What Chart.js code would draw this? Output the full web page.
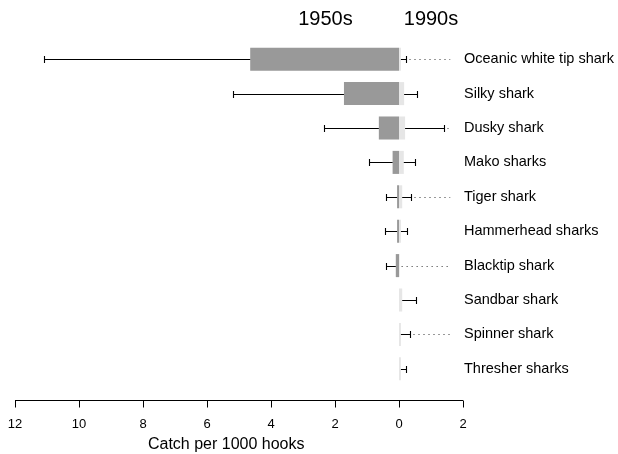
<!DOCTYPE html>
<html>
<head>
<meta charset="utf-8">
<script src="https://cdn.jsdelivr.net/npm/chart.js@4"></script>
<style>
  html, body { margin: 0; padding: 0; background: #fff; }
  #wrap { width: 618px; height: 454px; }
</style>
</head>
<body>
<div id="wrap"><canvas id="sharks"></canvas></div>
<script>
'use strict';

// ===== data =====
var sharks = ['Oceanic white tip shark', 'Silky shark', 'Dusky shark', 'Mako sharks', 'Tiger shark',
  'Hammerhead sharks', 'Blacktip shark', 'Sandbar shark', 'Spinner shark', 'Thresher sharks'];
var catch1950s = [4.65, 1.72, 0.63, 0.2, 0.06, 0.06, 0.1, 0, 0, 0];
var whisker1950s = [11.1, 5.2, 2.35, 0.95, 0.4, 0.43, 0.4, null, null, null];
var catch1990s = [0.06, 0.16, 0.19, 0.15, 0.1, 0.06, 0.02, 0.1, 0.06, 0.06];
var whisker1990s = [0.22, 0.56, 1.4, 0.5, 0.37, 0.25, null, 0.53, 0.34, 0.22];
var hasLeader = [true, false, true, false, true, false, true, false, true, false];
var xTicks = [-12, -10, -8, -6, -4, -2, 0, 2];
var periods = ['1950s', '1990s'];
var xTitle = 'Catch per 1000 hooks';

var FONT = "'Liberation Sans', Arial, sans-serif";

// whiskers, dotted leaders, the x axis line, axis title and the two period headings
var extras = {
  id: 'extras',
  afterDatasetsDraw: function(chart) {
    var ctx = chart.ctx;
    var xs = chart.scales.x, ys = chart.scales.y;
    var area = chart.chartArea;
    var leaderEnd = xs.getPixelForValue(1.6);

    ctx.save();
    ctx.strokeStyle = '#000';
    ctx.lineWidth = 1.1;
    for (var i = 0; i < sharks.length; i++) {
      var y = Math.round(ys.getPixelForValue(i)) + 0.5;
      var a, b;
      if (whisker1950s[i] != null) {
        a = xs.getPixelForValue(-catch1950s[i]);
        b = Math.round(xs.getPixelForValue(-whisker1950s[i])) + 0.5;
        ctx.beginPath();
        ctx.moveTo(a, y); ctx.lineTo(b, y);
        ctx.moveTo(b, y - 3.5); ctx.lineTo(b, y + 3.5);
        ctx.stroke();
      }
      var rightEnd = xs.getPixelForValue(catch1990s[i]) + 2;
      if (whisker1990s[i] != null) {
        a = xs.getPixelForValue(catch1990s[i]);
        b = Math.round(xs.getPixelForValue(whisker1990s[i])) + 0.5;
        ctx.beginPath();
        ctx.moveTo(a, y); ctx.lineTo(b, y);
        ctx.moveTo(b, y - 3.5); ctx.lineTo(b, y + 3.5);
        ctx.stroke();
        rightEnd = b + 3;
      }
      if (hasLeader[i]) {
        ctx.save();
        ctx.strokeStyle = '#333';
        ctx.lineWidth = 1;
        ctx.setLineDash([1, 4]);
        ctx.beginPath();
        ctx.moveTo(rightEnd, y); ctx.lineTo(leaderEnd, y);
        ctx.stroke();
        ctx.restore();
      }
    }

    // x axis line with tick marks
    ctx.lineWidth = 1;
    var axisY = Math.round(area.bottom + 14) + 0.5;
    ctx.beginPath();
    ctx.moveTo(xs.getPixelForValue(xTicks[0]), axisY);
    ctx.lineTo(xs.getPixelForValue(xTicks[xTicks.length - 1]), axisY);
    xTicks.forEach(function(t) {
      var px = Math.round(xs.getPixelForValue(t)) + 0.5;
      ctx.moveTo(px, axisY); ctx.lineTo(px, axisY + 7);
    });
    ctx.stroke();

    ctx.fillStyle = '#000';
    ctx.textAlign = 'center';
    ctx.textBaseline = 'middle';

    // axis title, sits a little left of the axis centre
    ctx.font = '16px ' + FONT;
    ctx.fillText(xTitle, xs.getPixelForValue(-5.4), 445);

    // period headings
    ctx.font = '20px ' + FONT;
    ctx.fillText(periods[0], xs.getPixelForValue(-2.3), 19);
    ctx.fillText(periods[1], xs.getPixelForValue(1.0), 19);
    ctx.restore();
  }
};

var ctx = document.getElementById('sharks').getContext('2d');
var chart = new Chart(ctx, {
  type: 'bar',
  data: {
    labels: sharks,
    datasets: [{
      label: periods[0],
      data: catch1950s.map(function(v) { return [-v, 0]; }),
      backgroundColor: '#999999',
      grouped: false,
      barPercentage: 0.67,
      categoryPercentage: 1
    }, {
      label: periods[1],
      data: catch1990s.map(function(v) { return [0, v]; }),
      backgroundColor: '#e6e6e6',
      grouped: false,
      barPercentage: 0.67,
      categoryPercentage: 1
    }]
  },
  plugins: [extras],
  options: {
    indexAxis: 'y',
    responsive: true,
    maintainAspectRatio: false,
    animation: false,
    layout: { padding: { top: 42, left: 15, bottom: 0, right: 0 } },
    plugins: { legend: { display: false }, tooltip: { enabled: false } },
    scales: {
      x: {
        type: 'linear',
        min: -12,
        max: 2,
        afterBuildTicks: function(scale) {
          scale.ticks = xTicks.map(function(v) { return { value: v }; });
        },
        afterFit: function(scale) {
          scale.height = 68;
          scale.paddingLeft = 0;
          scale.paddingRight = 0;
        },
        grid: { display: false, drawTicks: false },
        border: { display: false },
        ticks: {
          padding: 31,
          color: '#000',
          font: { family: FONT, size: 13 },
          maxRotation: 0,
          callback: function(v) { return Math.abs(v); }
        }
      },
      y: {
        position: 'right',
        grid: { display: false, drawTicks: false },
        border: { display: false },
        afterFit: function(scale) { scale.width = 155; },
        ticks: {
          padding: 1,
          color: '#000',
          font: { family: FONT, size: 14.5 }
        }
      }
    }
  }
});
</script>
</body>
</html>
